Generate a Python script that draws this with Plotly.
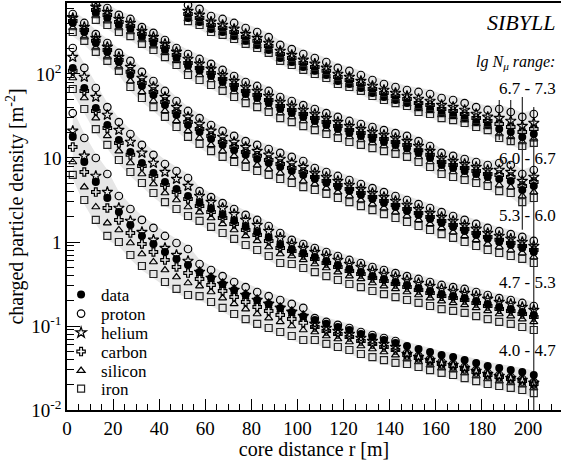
import numpy as np
import plotly.graph_objects as go

# core distance bins [m]
R = [2.5, 7.5, 12.5, 17.5, 22.5, 27.5, 32.5, 37.5, 42.5, 47.5, 52.5, 57.5, 62.5, 67.5,
     72.5, 77.5, 82.5, 87.5, 92.5, 97.5, 102.5, 107.5, 112.5, 117.5, 122.5, 127.5, 132.5,
     137.5, 142.5, 147.5, 152.5, 157.5, 162.5, 167.5, 172.5, 177.5, 182.5, 187.5, 192.5,
     197.5, 202.5]

range_labels = ["6.7 - 7.3", "6.0 - 6.7", "5.3 - 6.0", "4.7 - 5.3", "4.0 - 4.7"]

# ---- lg Nmu 6.7 - 7.3 (r >= 52.5 m)
R1 = R[10:]
D1 = [465, 417, 344, 316, 283, 248, 222, 193, 155, 139, 121, 109, 97.3, 82.5, 76, 68.1, 59.4, 53.2, 49.0, 45.1,
      40.4, 38.3, 34.3, 32.5, 29.9, 26.8, 24.7, 22.1, 20.4, 17.8, 19.3]
P1 = [662, 595, 490, 452, 405, 353, 316, 275, 222, 198, 173, 155, 139, 118, 109, 97.3, 84.8, 76, 70, 64.5,
      61.1, 57.8, 51.8, 49, 45.1, 40.4, 37.3, 38.3, 35.3, 30.8, 33.4]
He1 = [562, 505, 417, 383, 344, 299, 268, 234, 188, 168, 147, 132, 118, 100, 92.1, 82.5, 72, 64.5, 59.4, 54.7,
       50.4, 47.7, 42.7, 40.4, 37.3, 33.4, 30.8, 29.9, 27.6, 24.0, 26.1]
C1 = [518, 465, 383, 353, 316, 275, 248, 215, 173, 155, 135, 121, 109, 92.1, 84.8, 76, 66.3, 59.4, 54.7, 50.4,
      45.1, 42.7, 38.3, 36.3, 33.4, 29.9, 27.6, 25.4, 23.4, 20.4, 22.1]
Si1 = [452, 405, 334, 308, 275, 240, 215, 188, 151, 135, 118, 106, 94.7, 80.3, 74, 66.3, 57.8, 51.8, 47.7, 43.9,
       38.3, 36.3, 32.5, 30.8, 28.3, 25.4, 23.4, 19.3, 17.8, 15.5, 16.8]
Fe1 = [427, 383, 316, 292, 261, 228, 204, 178, 143, 128, 112, 100, 89.6, 76, 70, 62.8, 54.7, 49, 45.1, 41.6,
       35.3, 33.4, 29.9, 28.3, 26.1, 23.4, 21.5, 17.3, 15.9, 13.9, 15.1]
D1_err_plus = [0] * 27 + [26.9, 28.6, 35.4, 21.1]
D1_err_minus = [0] * 27 + [5.7, 6.1, 16.4, 19.295]

# ---- lg Nmu 6.0 - 6.7 (r >= 12.5 m)
R2 = R[2:]
D2 = [532, 465, 383, 344, 275, 234, 193, 155, 125, 109, 94.7, 80.3, 68.1, 57.8, 51.8, 45.1, 38.3, 34.3, 30.8, 27.6,
      24.7, 22.1, 19.8, 18.3, 16.8, 15.5, 14.3, 13.1, 11.5, 10, 8.25, 7.60, 7.00, 6.45, 5.94, 5.62, 5.32, 4.16, 4.64]
P2 = [699, 610, 505, 452, 362, 308, 254, 204, 173, 151, 132, 112, 94.7, 80.3, 72, 62.8, 53.2, 47.7, 42.7, 38.3,
      34.3, 30.8, 27.6, 25.4, 23.4, 21.5, 19.8, 18.3, 15.9, 13.9, 11.5, 10.6, 9.73, 8.96, 8.25, 8.72, 8.25, 6.45, 7.20]
He2 = [629, 546, 452, 405, 325, 275, 228, 183, 151, 132, 115, 97.3, 82.5, 70, 62.8, 54.7, 46.4, 41.6, 37.3, 33.4,
       29.9, 26.8, 24.0, 22.1, 20.4, 18.8, 17.3, 15.9, 13.9, 12.1, 10, 9.21, 8.48, 7.81, 7.20, 7.20, 6.81, 5.32, 5.94]
C2 = [578, 505, 417, 373, 299, 254, 210, 168, 135, 118, 103, 87.2, 74, 62.8, 56.2, 49, 41.6, 37.3, 33.4, 29.9,
      26.8, 24.0, 21.5, 19.8, 18.3, 16.8, 15.5, 14.3, 12.4, 10.9, 8.96, 8.25, 7.60, 7.00, 6.45, 6.28, 5.94, 4.64, 5.18]
Si2 = [490, 427, 353, 316, 254, 215, 178, 143, 112, 97.3, 84.8, 72, 61.1, 51.8, 46.4, 40.4, 34.3, 30.8, 27.6, 24.7,
       22.1, 19.8, 17.8, 16.4, 15.1, 13.9, 12.8, 11.8, 10.3, 8.96, 7.40, 6.81, 6.28, 5.78, 5.32, 4.77, 4.51, 3.53, 3.93]
Fe2 = [441, 383, 316, 283, 228, 193, 159, 128, 97.3, 84.8, 74, 62.8, 53.2, 45.1, 40.4, 35.3, 29.9, 26.8, 24.0, 21.5,
       19.3, 17.3, 15.5, 14.3, 13.1, 12.1, 11.2, 10.3, 8.96, 7.81, 6.45, 5.94, 5.47, 5.04, 4.64, 4.04, 3.83, 2.99, 3.34]

# ---- lg Nmu 5.3 - 6.0
R3 = R
D3 = [405, 316, 234, 183, 139, 97.3, 72, 56.2, 42.7, 32.5, 24.7, 20.4, 16.8, 14.3, 12.4, 10.9, 9.73, 8.72, 7.81, 7.00,
      6.28, 5.62, 5.04, 4.51, 4.04, 3.63, 3.25, 2.91, 2.61, 2.34, 2.10, 1.88, 1.68, 1.51, 1.35, 1.21, 1.09, 1.00, 0.921,
      0.848, 0.760]
P3 = [518, 405, 299, 234, 178, 143, 106, 82.5, 62.8, 47.7, 36.3, 29.9, 24.7, 21.0, 18.3, 15.9, 14.3, 12.8, 11.5, 10.3,
      9.21, 7.60, 6.81, 6.11, 5.47, 4.90, 4.39, 3.93, 3.53, 3.16, 2.83, 2.54, 2.27, 2.04, 1.83, 1.64, 1.47, 1.35, 1.24,
      1.15, 1.03]
He3 = [465, 362, 268, 210, 159, 121, 89.6, 70, 53.2, 40.4, 30.8, 25.4, 21.0, 17.8, 15.5, 13.5, 12.1, 10.9, 9.73, 8.72,
       7.81, 6.63, 5.94, 5.32, 4.77, 4.27, 3.83, 3.43, 3.08, 2.76, 2.47, 2.21, 1.98, 1.78, 1.59, 1.43, 1.28, 1.18, 1.09,
       1.00, 0.896]
C3 = [427, 334, 248, 193, 147, 106, 78.1, 61.1, 46.4, 35.3, 26.8, 22.1, 18.3, 15.5, 13.5, 11.8, 10.6, 9.47, 8.48, 7.60,
      6.81, 5.94, 5.32, 4.77, 4.27, 3.83, 3.43, 3.08, 2.76, 2.47, 2.21, 1.98, 1.78, 1.59, 1.43, 1.28, 1.15, 1.06, 0.973,
      0.896, 0.803]
Si3 = [353, 275, 204, 159, 121, 82.5, 61.1, 47.7, 36.3, 27.6, 21.0, 17.3, 14.3, 12.1, 10.6, 9.21, 8.25, 7.40, 6.63,
       5.94, 5.32, 4.90, 4.39, 3.93, 3.53, 3.16, 2.83, 2.54, 2.27, 2.04, 1.83, 1.64, 1.47, 1.31, 1.18, 1.06, 0.947,
       0.872, 0.803, 0.740, 0.663]
Fe3 = [316, 248, 183, 143, 109, 70, 51.8, 40.4, 30.8, 23.4, 17.8, 14.7, 12.1, 10.3, 8.96, 7.81, 7.00, 6.28, 5.62, 5.04,
       4.51, 4.16, 3.73, 3.34, 2.99, 2.68, 2.40, 2.15, 1.93, 1.73, 1.55, 1.39, 1.24, 1.12, 1.00, 0.896, 0.803, 0.740,
       0.681, 0.628, 0.562]

# ---- lg Nmu 4.7 - 5.3
R4 = R
D4 = [118, 68.1, 39.3, 24.7, 16.4, 11.8, 8.72, 6.63, 5.18, 4.27, 3.53, 2.91, 2.47, 2.10, 1.78, 1.51, 1.31, 1.12, 0.921,
      0.825, 0.740, 0.663, 0.594, 0.532, 0.477, 0.439, 0.393, 0.363, 0.334, 0.308, 0.283, 0.261, 0.240, 0.227, 0.215,
      0.198, 0.183, 0.168, 0.159, 0.147, 0.135]
P4 = [204, 118, 68.1, 40.4, 26.8, 19.3, 14.3, 10.9, 8.48, 7.00, 5.78, 4.04, 3.43, 2.91, 2.47, 2.10, 1.83, 1.55, 1.28,
      1.06, 0.947, 0.848, 0.760, 0.681, 0.611, 0.562, 0.504, 0.464, 0.427, 0.393, 0.363, 0.334, 0.308, 0.291, 0.276,
      0.254, 0.234, 0.215, 0.204, 0.188, 0.173]
He4 = [159, 92.1, 53.2, 32.5, 21.5, 15.5, 11.5, 8.72, 6.81, 5.62, 4.64, 3.53, 2.99, 2.54, 2.15, 1.83, 1.59, 1.35, 1.12,
       0.947, 0.848, 0.760, 0.681, 0.611, 0.547, 0.504, 0.451, 0.416, 0.383, 0.353, 0.325, 0.299, 0.276, 0.261, 0.247,
       0.227, 0.210, 0.193, 0.183, 0.168, 0.155]
C4 = [109, 62.8, 36.3, 22.7, 15.1, 10.9, 8.03, 6.11, 4.77, 3.93, 3.25, 2.68, 2.27, 1.93, 1.64, 1.39, 1.21, 1.03, 0.848,
      0.781, 0.700, 0.628, 0.562, 0.504, 0.451, 0.416, 0.373, 0.343, 0.316, 0.291, 0.268, 0.247, 0.227, 0.215, 0.204,
      0.188, 0.173, 0.159, 0.151, 0.139, 0.128]
Si4 = [89.6, 51.8, 29.9, 18.3, 12.1, 8.72, 6.45, 4.90, 3.83, 3.16, 2.61, 2.27, 1.93, 1.64, 1.39, 1.18, 1.03, 0.872,
       0.720, 0.681, 0.611, 0.547, 0.490, 0.439, 0.393, 0.363, 0.325, 0.299, 0.276, 0.254, 0.234, 0.215, 0.198, 0.188,
       0.178, 0.164, 0.151, 0.139, 0.131, 0.121, 0.112]
Fe4 = [66.3, 38.3, 22.1, 14.3, 9.47, 6.81, 5.04, 3.83, 2.99, 2.47, 2.04, 1.78, 1.51, 1.28, 1.09, 0.921, 0.803, 0.681,
       0.562, 0.547, 0.490, 0.439, 0.393, 0.353, 0.316, 0.291, 0.261, 0.240, 0.221, 0.204, 0.188, 0.173, 0.159, 0.151,
       0.143, 0.131, 0.121, 0.112, 0.106, 0.0973, 0.0896]

# ---- lg Nmu 4.0 - 4.7
R5 = R
D5 = [17.8, 8.96, 5.18, 3.34, 2.27, 1.59, 1.18, 0.947, 0.760, 0.628, 0.532, 0.439, 0.373, 0.316, 0.268, 0.234, 0.204,
      0.183, 0.164, 0.147, 0.131, 0.118, 0.106, 0.0973, 0.0896, 0.0803, 0.0740, 0.0681, 0.0628, 0.0578, 0.0532, 0.0490,
      0.0451, 0.0427, 0.0393, 0.0363, 0.0334, 0.0316, 0.0299, 0.0283, 0.0261]
P5 = [34.3, 17.3, 10, 6.45, 3.53, 2.47, 1.83, 1.47, 1.18, 0.973, 0.825, 0.547, 0.464, 0.393, 0.334, 0.291, 0.254, 0.227,
      0.204, 0.183, 0.164, 0.124, 0.112, 0.103, 0.0947, 0.0848, 0.0781, 0.0720, 0.0663, 0.0477, 0.0439, 0.0404, 0.0373,
      0.0353, 0.0325, 0.0299, 0.0276, 0.0261, 0.0247, 0.0234, 0.0215]
He5 = [21.0, 10.6, 6.11, 3.93, 2.54, 1.78, 1.31, 1.06, 0.848, 0.700, 0.594, 0.439, 0.373, 0.316, 0.268, 0.234, 0.204,
       0.183, 0.164, 0.147, 0.131, 0.106, 0.0947, 0.0872, 0.0803, 0.0720, 0.0663, 0.0611, 0.0562, 0.0464, 0.0427, 0.0393,
       0.0363, 0.0343, 0.0316, 0.0291, 0.0268, 0.0254, 0.0240, 0.0227, 0.0210]
C5 = [13.5, 6.81, 3.93, 2.54, 1.83, 1.28, 0.947, 0.760, 0.611, 0.504, 0.427, 0.363, 0.308, 0.261, 0.221, 0.193, 0.168,
      0.151, 0.135, 0.121, 0.109, 0.0973, 0.0872, 0.0803, 0.0740, 0.0663, 0.0611, 0.0562, 0.0518, 0.0451, 0.0416, 0.0383,
      0.0353, 0.0334, 0.0308, 0.0283, 0.0261, 0.0247, 0.0234, 0.0221, 0.0204]
Si5 = [8.96, 4.51, 2.61, 1.68, 1.39, 0.973, 0.720, 0.578, 0.464, 0.383, 0.325, 0.299, 0.254, 0.215, 0.183, 0.159, 0.139,
       0.124, 0.112, 0.1, 0.0896, 0.0848, 0.0760, 0.0700, 0.0645, 0.0578, 0.0532, 0.0490, 0.0451, 0.0404, 0.0373, 0.0343,
       0.0316, 0.0299, 0.0276, 0.0254, 0.0234, 0.0221, 0.0210, 0.0198, 0.0183]
Fe5 = [6.28, 3.16, 1.83, 1.18, 1.00, 0.700, 0.518, 0.416, 0.334, 0.276, 0.234, 0.227, 0.193, 0.164, 0.139, 0.121, 0.106,
       0.0947, 0.0848, 0.0760, 0.0681, 0.0681, 0.0611, 0.0562, 0.0518, 0.0464, 0.0427, 0.0393, 0.0363, 0.0353, 0.0325,
       0.0299, 0.0276, 0.0261, 0.0240, 0.0221, 0.0204, 0.0193, 0.0183, 0.0173, 0.0159]

bands = [
    (R1, D1, P1, He1, C1, Si1, Fe1),
    (R2, D2, P2, He2, C2, Si2, Fe2),
    (R3, D3, P3, He3, C3, Si3, Fe3),
    (R4, D4, P4, He4, C4, Si4, Fe4),
    (R5, D5, P5, He5, C5, Si5, Fe5),
]

FONT = "Liberation Serif"
LW = 1.2
species = [
    ("proton", dict(symbol="circle-open", size=7.5, color="black", line=dict(width=LW, color="black"))),
    ("helium", dict(symbol="star-open", size=8, color="black", line=dict(width=LW, color="black"))),
    ("carbon", dict(symbol="cross-open", size=7, color="black", line=dict(width=LW, color="black"))),
    ("silicon", dict(symbol="triangle-up-open", size=7, color="black", line=dict(width=LW, color="black"))),
    ("iron", dict(symbol="square-open", size=7, color="#222222", line=dict(width=LW, color="#222222"))),
]
data_style = dict(symbol="circle", size=8, color="black", line=dict(width=0))

fig = go.Figure()

# grey simulation bands
for (r, d, p, he, c, si, fe) in bands:
    allv = np.array([d, p, he, c, si, fe], dtype=float)
    up = allv.max(axis=0) * 1.12
    lo = allv.min(axis=0) / 1.12
    fig.add_trace(go.Scatter(
        x=list(r) + list(r[::-1]), y=list(up) + list(lo[::-1]),
        mode="lines", fill="toself", fillcolor="#e6e6e6", line=dict(width=0, color="#e6e6e6"),
        showlegend=False, hoverinfo="skip"))

legend_names = ["legend", "legend2", "legend3", "legend4", "legend5", "legend6"]
for bi, (r, d, p, he, c, si, fe) in enumerate(bands):
    first = bi == 0
    err = None
    if bi == 0:
        err = dict(type="data", symmetric=False, array=D1_err_plus, arrayminus=D1_err_minus,
                   color="black", thickness=1, width=0)
    fig.add_trace(go.Scatter(x=r, y=d, mode="markers", name="data", marker=data_style,
                             legendgroup="data", showlegend=first, legend=legend_names[0],
                             error_y=err))
    for k, (name, st) in enumerate(species):
        vals = [p, he, c, si, fe][k]
        fig.add_trace(go.Scatter(x=r, y=vals, mode="markers", name=name, marker=st,
                                 legendgroup=name, showlegend=first, legend=legend_names[k + 1]))

ann = [
    dict(text="<i>SIBYLL</i>", x=0.992, y=0.953, font=dict(size=22)),
    dict(text="<i>lg N<sub>μ</sub> range:</i>", x=0.992, y=0.855, font=dict(size=16)),
]
label_y = [0.791, 0.619, 0.479, 0.314, 0.147]
for lab, yy in zip(range_labels, label_y):
    ann.append(dict(text=lab, x=0.994, y=yy, font=dict(size=17)))
for a in ann:
    a.update(xref="paper", yref="paper", xanchor="right", yanchor="middle", showarrow=False)
    a["font"].update(family=FONT, color="black")

ymin_vals = [m * 10.0 ** e for e in range(-2, 3) for m in range(2, 10) if m * 10.0 ** e < 700]

# one single-entry legend per species, stacked at the reference spacing
legend_py = [295, 314, 333, 352, 371, 389]
legends = {}
for name, py in zip(legend_names, legend_py):
    legends[name] = dict(x=-0.012, y=(410 - py) / 407, xanchor="left", yanchor="middle",
                         bgcolor="rgba(0,0,0,0)", font=dict(family=FONT, size=17, color="black"),
                         itemwidth=30, borderwidth=0)

fig.update_layout(
    width=561, height=460,
    margin=dict(l=67, r=0, t=3, b=50),
    paper_bgcolor="white", plot_bgcolor="white",
    font=dict(family=FONT, color="black", size=18),
    annotations=ann,
    hovermode=False,
    xaxis=dict(range=[0, 214.3], showline=True, linecolor="black", linewidth=1.5, mirror=True,
               ticks="inside", ticklen=11, tickwidth=1, tickcolor="black",
               tickvals=[0, 20, 40, 60, 80, 100, 120, 140, 160, 180, 200],
               minor=dict(ticks="inside", ticklen=6, dtick=5, tick0=0, tickcolor="black"),
               showgrid=False, zeroline=False, tickfont=dict(family=FONT, size=19),
               title=dict(text="core distance r [m]", font=dict(family=FONT, size=20), standoff=3)),
    yaxis=dict(type="log", range=[-2, np.log10(700)], showline=True, linecolor="black", linewidth=1.5,
               mirror=False, ticks="inside", ticklen=13, tickwidth=1, tickcolor="black",
               tickvals=[0.01, 0.1, 1, 10, 100],
               ticktext=["10<sup>-2</sup>", "10<sup>-1</sup>", "1", "10", "10<sup>2</sup>"],
               minor=dict(ticks="inside", ticklen=7, tickvals=ymin_vals, tickcolor="black"),
               showgrid=False, zeroline=False, tickfont=dict(family=FONT, size=19),
               title=dict(text="charged particle density [m<sup>-2</sup>]", font=dict(family=FONT, size=20),
                          standoff=2)),
    **legends,
)

fig.write_html("out.html")
